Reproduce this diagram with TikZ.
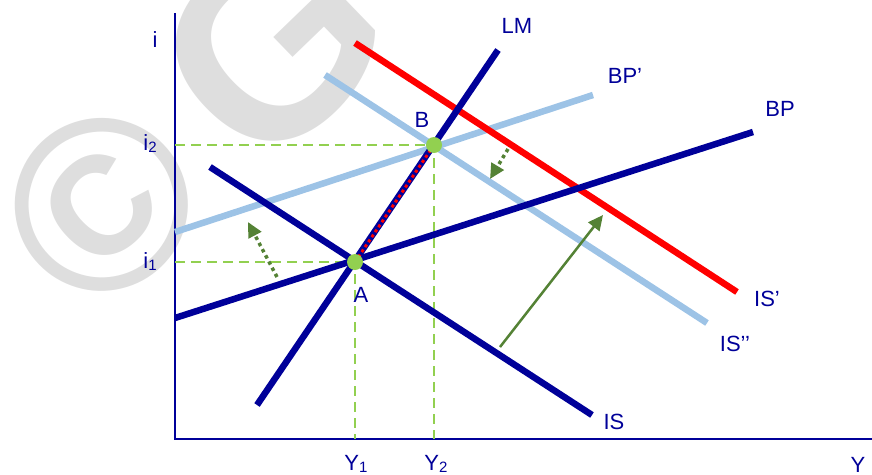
\documentclass[tikz,border=0pt]{standalone}
\usepackage{fontspec}
\setmainfont{Liberation Sans}
\usetikzlibrary{arrows.meta}
\definecolor{navy}{HTML}{000099}
\definecolor{lblue}{HTML}{9DC3E6}
\definecolor{lgreen}{HTML}{92D050}
\definecolor{dgreen}{HTML}{548235}
\definecolor{wm}{HTML}{DEDEDE}
\tikzset{
  axis/.style={navy, line width=2pt},
  curve/.style={line width=6.5pt},
  guide/.style={lgreen, line width=2pt, dash pattern=on 10pt off 6pt},
  lbl/.style={navy, font=\fontsize{22}{24}\selectfont, inner sep=0pt},
  dot/.style={circle, fill=lgreen, minimum size=16pt, inner sep=0pt},
  shiftarrow/.style={dgreen, line width=3.5pt, dash pattern=on 3.5pt off 3.5pt, -{Triangle[length=15pt,width=14pt]}},
}
\newcommand{\sub}[1]{\raisebox{-2pt}{\fontsize{15}{16}\selectfont #1}}
\begin{document}
\begin{tikzpicture}[x=1pt,y=-1pt]
\useasboundingbox (0,0) rectangle (872,474);
\begin{scope}
\clip (0,0) rectangle (872,474);
% watermark
\node[wm, rotate=44, font=\bfseries\fontsize{245}{245}\selectfont, inner sep=0pt] (wmc) at (102,205) {©};
\node[wm, rotate=44, font=\bfseries\fontsize{260}{260}\selectfont, inner sep=0pt] (wmg) at (272,46) {G};
\end{scope}
% axes
\coordinate (O) at (175,439);
\coordinate (ytop) at (175,13);
\coordinate (xend) at (872,439);
\draw[axis] (ytop) -- (O) -- (xend);
% points
\coordinate (A) at (355,262);
\coordinate (B) at (434,145);
\coordinate (i1) at (175,262);
\coordinate (i2) at (175,145);
\coordinate (y1) at (355,439);
\coordinate (y2) at (434,439);
% guides
\draw[guide] (i2) -- (B) -- (y2);
\draw[guide] (i1) -- (A) -- (y1);
% curve endpoints
\coordinate (LMa) at (257,405); \coordinate (LMb) at (498,50);
\coordinate (ISa) at (210,167); \coordinate (ISb) at (592,415);
\coordinate (BPa) at (175,318); \coordinate (BPb) at (753,132);
\coordinate (BPpa) at (175,232); \coordinate (BPpb) at (593,95);
\coordinate (ISppa) at (325,75); \coordinate (ISppb) at (707,323);
\coordinate (ISpa) at (355,43); \coordinate (ISpb) at (737,292);
% curves
\draw[curve, lblue] (ISppa) -- (ISppb);
\draw[curve, lblue] (BPpa) -- (BPpb);
\draw[curve, red] (ISpa) -- (ISpb);
\draw[curve, navy] (BPa) -- (BPb);
\draw[curve, navy] (ISa) -- (ISb);
\draw[curve, navy] (LMa) -- (LMb);
\draw[red, line width=3pt, dash pattern=on 3pt off 3pt] (A) -- (B);
% arrows
\coordinate (s1) at (500,347); \coordinate (t1) at (603,215);
\draw[dgreen, line width=2.5pt, -{Triangle[length=15pt,width=14pt]}] (s1) -- (t1);
\coordinate (s2) at (277,277); \coordinate (t2) at (248,222);
\draw[shiftarrow] (s2) -- (t2);
\coordinate (s3) at (508,149); \coordinate (t3) at (490,179);
\draw[shiftarrow] (s3) -- (t3);
% dots
\node[dot] (dA) at (A) {};
\node[dot] (dB) at (B) {};
% labels
\node[lbl] (li) at (155,40) {i};
\node[lbl] (li2) at (150,144) {i\sub{2}};
\node[lbl] (li1) at (150,262) {i\sub{1}};
\node[lbl] (lY1) at (356,464) {Y\sub{1}};
\node[lbl] (lY2) at (436,464) {Y\sub{2}};
\node[lbl] (lY) at (858,465) {Y};
\node[lbl] (lLM) at (517,26) {LM};
\node[lbl] (lBPp) at (625,76) {BP’};
\node[lbl] (lBP) at (780,109) {BP};
\node[lbl] (lISp) at (767,299) {IS’};
\node[lbl] (lISpp) at (735,344) {IS’’};
\node[lbl] (lIS) at (614,422) {IS};
\node[lbl] (lB) at (422,120) {B};
\node[lbl] (lA) at (361,295) {A};
\end{tikzpicture}
\end{document}
